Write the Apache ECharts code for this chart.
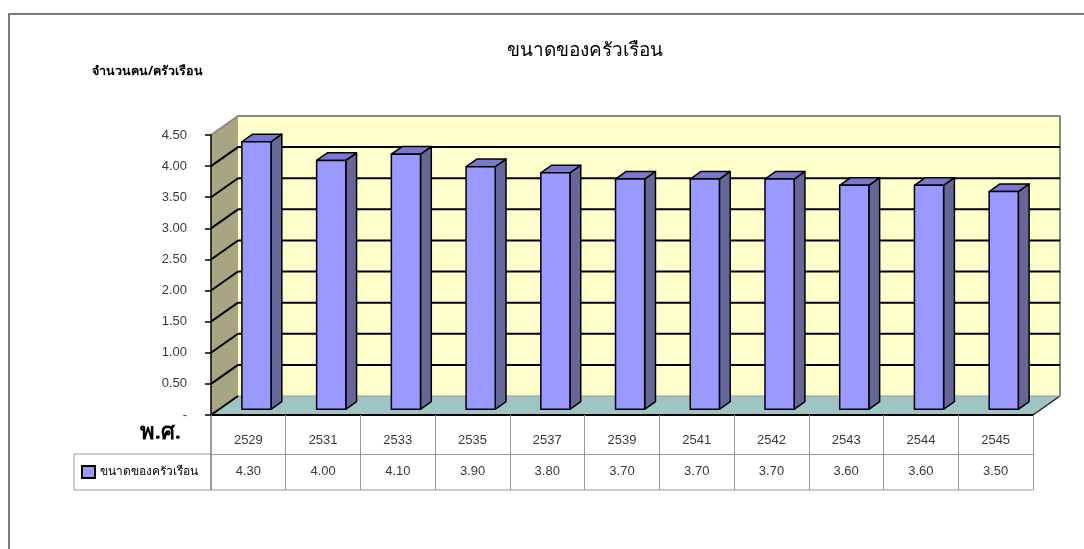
<!DOCTYPE html>
<html>
<head>
<meta charset="utf-8">
<script src="https://cdn.jsdelivr.net/npm/echarts@6/dist/echarts.min.js"></script>
<style>
html,body{margin:0;padding:0;background:#fff;}
#chart{width:1084px;height:549px;}
</style>
</head>
<body>
<div id="chart"></div>
<script>
const categories = ['2529','2531','2533','2535','2537','2539','2541','2542','2543','2544','2545'];
const values = [4.30, 4.00, 4.10, 3.90, 3.80, 3.70, 3.70, 3.70, 3.60, 3.60, 3.50];
const yTicks = [0, 0.5, 1, 1.5, 2, 2.5, 3, 3.5, 4, 4.5];
const seriesName = 'ขนาดของครัวเรือน';
const titleText = 'ขนาดของครัวเรือน';
const yTitle = 'จำนวนคน/ครัวเรือน';
const xTitle = 'พ.ศ.';

const DX = 27, DY = -19;           // depth of the 3D box
const F1 = 0.3, F2 = 0.7;          // bar depth fraction
const BAR_W = 0.39;                // bar width as fraction of band
const thaiFont = 'Noto Sans, DejaVu Sans, sans-serif';
const numFont = 'Liberation Sans, Arial, sans-serif';

const chart = echarts.init(document.getElementById('chart'), null, {renderer: 'canvas'});

function wallsRender(params, api) {
  const cs = params.coordSys;
  const x0 = cs.x, y0 = cs.y, w = cs.width, yB = cs.y + cs.height;
  return {
    type: 'group',
    children: [
      {type: 'rect', shape: {x: x0 + DX, y: y0 + DY, width: w, height: cs.height},
       style: {fill: '#FFFFCC', stroke: null}},
      {type: 'polygon', shape: {points: [[x0, y0], [x0 + DX, y0 + DY], [x0 + DX, yB + DY], [x0, yB]]},
       style: {fill: '#A8A682', stroke: null}},
      {type: 'polygon', shape: {points: [[x0, yB], [x0 + w, yB], [x0 + w + DX, yB + DY], [x0 + DX, yB + DY]]},
       style: {fill: '#9EC5C2', stroke: null}},
      {type: 'polyline', shape: {points: [[x0, y0], [x0 + DX, y0 + DY], [x0 + w + DX, y0 + DY], [x0 + w + DX, yB + DY]]},
       style: {fill: null, stroke: '#8a8a8a', lineWidth: 2}},
      {type: 'line', shape: {x1: x0 + w, y1: yB, x2: x0 + w + DX, y2: yB + DY},
       style: {stroke: '#222', lineWidth: 1.5}},
      {type: 'line', shape: {x1: x0 + DX, y1: yB + DY, x2: x0 + w + DX, y2: yB + DY},
       style: {stroke: '#9a9a9a', lineWidth: 1}}
    ]
  };
}

function gridRender(params, api) {
  const cs = params.coordSys;
  const x0 = cs.x, w = cs.width;
  const v = api.value(0);
  const y = api.coord([0, v])[1];
  const children = [
    {type: 'line', shape: {x1: x0, y1: y, x2: x0 + DX, y2: y + DY}, style: {stroke: '#000', lineWidth: 2}}
  ];
  if (v > 0) {
    children.push({type: 'line', shape: {x1: x0 + DX, y1: y + DY, x2: x0 + w + DX, y2: y + DY},
      style: {stroke: '#000', lineWidth: 2}});
  }
  return {type: 'group', children: children};
}

function barRender(params, api) {
  const i = api.value(0), v = api.value(1);
  const base = api.coord([i, 0]);
  const topP = api.coord([i, v]);
  const band = api.size([1, 0])[0];
  const bw = band * BAR_W;
  const left = base[0] - bw / 2 + DX * F1;
  const right = left + bw;
  const bottom = base[1] + DY * F1;
  const top = topP[1] + DY * F1;
  const ddx = DX * (F2 - F1), ddy = DY * (F2 - F1);
  const st = {stroke: '#000', lineWidth: 1.5, lineJoin: 'round'};
  return {
    type: 'group',
    children: [
      {type: 'polygon', shape: {points: [[right, top], [right + ddx, top + ddy], [right + ddx, bottom + ddy], [right, bottom]]},
       style: Object.assign({fill: '#666699'}, st)},
      {type: 'polygon', shape: {points: [[left, top], [right, top], [right + ddx, top + ddy], [left + ddx, top + ddy]]},
       style: Object.assign({fill: '#7878CC'}, st)},
      {type: 'rect', shape: {x: left, y: top, width: bw, height: bottom - top},
       style: Object.assign({fill: '#9999FF'}, st)}
    ]
  };
}

const option = {
  backgroundColor: '#ffffff',
  animation: false,
  grid: {left: 211, top: 135, width: 822, height: 280, containLabel: false},
  legend: {
    data: [seriesName], left: 81, top: 465, icon: 'rect', itemWidth: 13, itemHeight: 12,
    itemStyle: {color: '#9999FF', borderColor: '#000', borderWidth: 2},
    textStyle: {fontSize: 12, color: '#000', fontFamily: thaiFont}, selectedMode: false, padding: 0
  },
  xAxis: [
    {
      type: 'category', data: categories, gridIndex: 0, position: 'bottom', z: 5,
      axisLine: {show: true, lineStyle: {color: '#000', width: 2}},
      axisTick: {show: true, length: 39, lineStyle: {color: '#999', width: 1}},
      axisLabel: {margin: 19, fontSize: 13, color: '#3a3a3a', fontFamily: numFont},
      splitLine: {show: false}
    },
    {
      type: 'category', data: values.map(v => v.toFixed(2)), gridIndex: 0, position: 'bottom', offset: 39, z: 5,
      axisLine: {show: true, lineStyle: {color: '#999', width: 1}},
      axisTick: {show: true, length: 36, lineStyle: {color: '#999', width: 1}},
      axisLabel: {margin: 11, fontSize: 13, color: '#3a3a3a', fontFamily: numFont},
      splitLine: {show: false}
    }
  ],
  yAxis: {
    type: 'value', min: 0, max: 4.5, interval: 0.5, z: 5,
    axisLine: {show: true, lineStyle: {color: '#000', width: 1.5}},
    axisTick: {show: true, length: 6, lineStyle: {color: '#000', width: 1.5}},
    axisLabel: {margin: 24, fontSize: 13, color: '#3a3a3a', fontFamily: numFont,
      formatter: v => v === 0 ? '-' : v.toFixed(2)},
    splitLine: {show: false}
  },
  graphic: [
    {type: 'rect', shape: {x: 9, y: 14, width: 1100, height: 600}, silent: true, z: -10,
     style: {fill: null, stroke: '#7a7a7a', lineWidth: 2}},
    {type: 'text', x: 585, y: 51, silent: true,
     style: {text: titleText, fontSize: 19, fontFamily: thaiFont, fill: '#000', textAlign: 'center', textVerticalAlign: 'middle'}},
    {type: 'text', x: 92, y: 71, silent: true,
     style: {text: yTitle, fontSize: 12.5, fontWeight: 'bold', fontFamily: thaiFont, fill: '#000', textAlign: 'left', textVerticalAlign: 'middle'}},
    {type: 'text', x: 181, y: 433, silent: true,
     style: {text: xTitle, fontSize: 22, fontWeight: 'bold', fontFamily: thaiFont, fill: '#000', textAlign: 'right', textVerticalAlign: 'middle'}},
    {type: 'polyline', silent: true, shape: {points: [[211, 454], [74, 454], [74, 490], [1033, 490]]},
     style: {fill: null, stroke: '#999', lineWidth: 1}},
    {type: 'line', silent: true, shape: {x1: 211, y1: 415, x2: 211, y2: 490},
     style: {stroke: '#777', lineWidth: 1.5}}
  ],
  series: [
    {type: 'custom', name: 'walls', renderItem: wallsRender, data: [[0]], z: 1, silent: true, encode: {x: -1, y: -1}},
    {type: 'custom', name: 'grid', renderItem: gridRender, data: yTicks.filter(v => v < 4.5).map(v => [v]), z: 2, silent: true, encode: {x: -1, y: 0}},
    {type: 'custom', name: seriesName, renderItem: barRender, data: values.map((v, i) => [i, v]),
     encode: {x: 0, y: 1}, z: 3, itemStyle: {color: '#9999FF', borderColor: '#000', borderWidth: 2}}
  ]
};
chart.setOption(option);
</script>
</body>
</html>
